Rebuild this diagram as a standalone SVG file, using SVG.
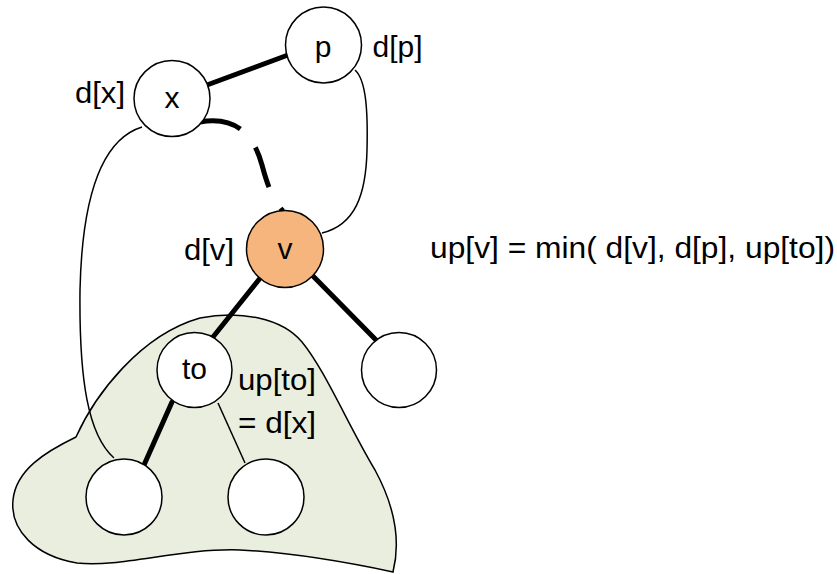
<svg xmlns="http://www.w3.org/2000/svg" width="837" height="574" viewBox="0 0 837 574">
  <style>
    .node { fill: #ffffff; stroke: #000000; stroke-width: 1.5; }
    .node.current { fill: #f7b57e; }
    .edge { stroke: #000000; stroke-width: 5; stroke-linecap: round; fill: none; }
    .thin { stroke: #000000; stroke-width: 1.5; fill: none; }
    .back { stroke: #000000; stroke-width: 5; stroke-linecap: butt; fill: none; stroke-dasharray: 42 24; }
    .region { fill: #eaeede; stroke: #000000; stroke-width: 1.5; }
    text { font-family: "Liberation Sans", Arial, sans-serif; font-size: 30px; fill: #000000; }
    .c { text-anchor: middle; }
  </style>

  <!-- subtree of "to" -->
  <path id="subtree" class="region" d="M76,437 C95,395 140,335 200,318 C240,310 282,318 302,342 C325,370 348,425 375,470 C394,505 401,540 393,572 C360,565 300,553 240,550 C180,548 120,568 77,563 C35,556 10,530 13,500 C16,470 45,452 76,437 Z"/>

  <g id="connectors">
    <!-- back edges -->
    <path class="thin" d="M142,127 C100,140 82,200 80,290 C79,380 88,435 114,458"/>
    <path class="thin" d="M355,70 C366,80 368,110 367,150 C366,195 355,225 322,233"/>
    <path class="back" d="M200,122 C240,115 255,140 262,165 C266,180 272,200 283,211"/>
    <!-- tree edges -->
    <line class="edge" x1="207" y1="85" x2="288" y2="55"/>
    <line class="edge" x1="261" y1="277" x2="213" y2="337"/>
    <line class="edge" x1="312" y1="275" x2="377" y2="341"/>
    <line class="edge" x1="172" y1="402" x2="144" y2="465"/>
    <line class="thin" x1="218" y1="403" x2="245" y2="463"/>
  </g>

  <g id="node-p">
    <circle class="node" cx="323.5" cy="45" r="38"/>
    <text class="c" x="323" y="57">p</text>
    <text x="372.5" y="57" textLength="50" lengthAdjust="spacingAndGlyphs">d[p]</text>
  </g>

  <g id="node-x">
    <circle class="node" cx="172" cy="98.5" r="38"/>
    <text class="c" x="172" y="108">x</text>
    <text x="75" y="103" textLength="50" lengthAdjust="spacingAndGlyphs">d[x]</text>
  </g>

  <g id="node-v">
    <circle class="node current" cx="285" cy="249" r="38.5"/>
    <text class="c" x="285" y="259">v</text>
    <text x="184" y="260" textLength="50" lengthAdjust="spacingAndGlyphs">d[v]</text>
  </g>

  <g id="node-to">
    <circle class="node" cx="194.5" cy="370" r="37.5"/>
    <text class="c" x="194.5" y="379">to</text>
    <text x="238" y="390" textLength="78" lengthAdjust="spacingAndGlyphs">up[to]</text>
    <text x="238" y="433" textLength="78" lengthAdjust="spacingAndGlyphs">= d[x]</text>
  </g>

  <g id="node-right">
    <circle class="node" cx="399" cy="370" r="37.5"/>
  </g>

  <g id="node-left-leaf">
    <circle class="node" cx="124" cy="497" r="38"/>
  </g>

  <g id="node-right-leaf">
    <circle class="node" cx="266" cy="497" r="38"/>
  </g>

  <g id="formula">
    <text x="430" y="258" textLength="405" lengthAdjust="spacingAndGlyphs">up[v] = min( d[v], d[p], up[to])</text>
  </g>
</svg>
